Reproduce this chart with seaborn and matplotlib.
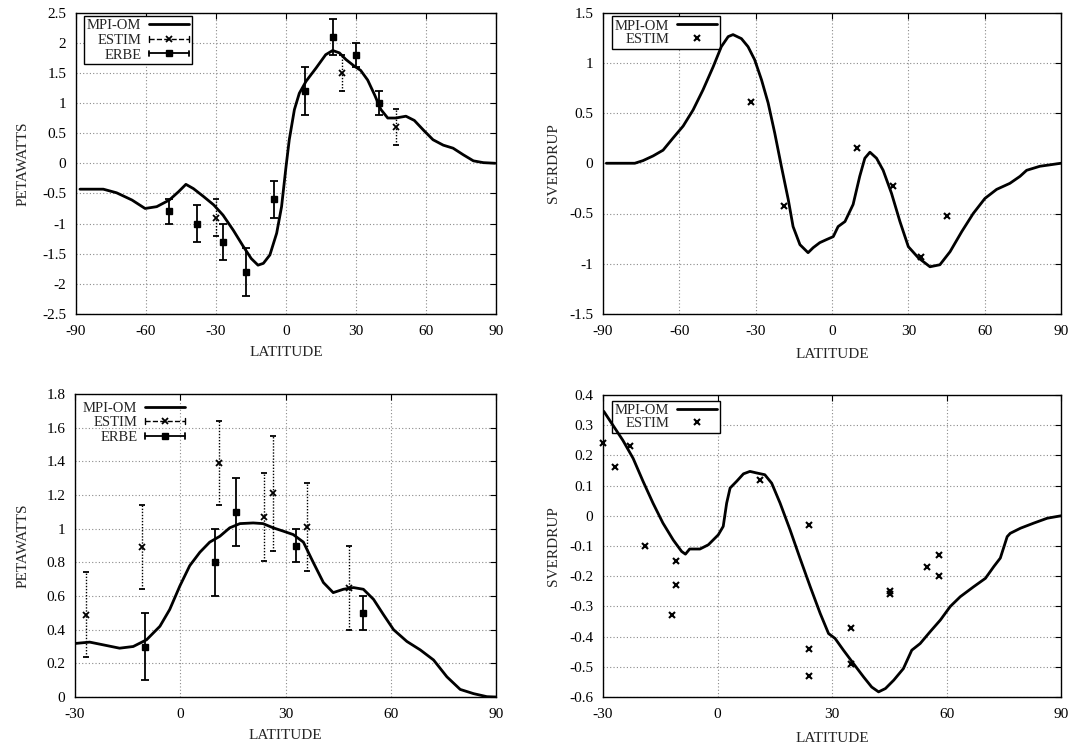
import numpy as np
import pandas as pd
import matplotlib
matplotlib.use("Agg")
import matplotlib.pyplot as plt
import seaborn as sns
from matplotlib.lines import Line2D
from matplotlib.legend_handler import HandlerBase

# ---------------- DATA ----------------
# Panel A: global heat transport (PW)
a_lat = [-88.3, -78.3, -72.6, -66, -60.4, -55.4, -50, -46, -42.9, -39.7, -35.4, -31, -27, -22.6,
         -18.3, -14.9, -12, -9.7, -6.9, -4, -1.9, 0, 1.4, 3.6, 5.7, 8.6, 12.9, 17, 20, 22.9, 25.7,
         29.3, 32, 35, 37.9, 40.7, 43.6, 47, 51.4, 55, 58.9, 63, 67.4, 71.6, 76, 80.3, 84.6, 89.6]
a_mpi = [-0.43, -0.43, -0.49, -0.61, -0.75, -0.72, -0.61, -0.47, -0.35, -0.42, -0.55, -0.69, -0.86,
         -1.11, -1.38, -1.58, -1.69, -1.66, -1.52, -1.16, -0.72, -0.06, 0.39, 0.89, 1.16, 1.36, 1.58,
         1.80, 1.87, 1.83, 1.72, 1.61, 1.54, 1.38, 1.14, 0.89, 0.75, 0.75, 0.78, 0.71, 0.55, 0.39,
         0.30, 0.25, 0.14, 0.04, 0.01, 0.0]
a_erbe_lat = [-50, -38, -27, -17, -5, 8, 20, 30, 40]
a_erbe_val = [-0.8, -1.0, -1.3, -1.8, -0.6, 1.2, 2.1, 1.8, 1.0]
a_erbe_err = [0.2, 0.3, 0.3, 0.4, 0.3, 0.4, 0.3, 0.2, 0.2]
a_est_lat = [-30, 24, 47]
a_est_val = [-0.9, 1.5, 0.6]
a_est_err = [0.3, 0.3, 0.3]

# Panel B: global overturning (Sv)
b_lat = [-88.7, -77.5, -74.3, -70.3, -66.4, -62.5, -58.5, -54.6, -50.7, -46.7, -43.5, -40.8, -38.9,
         -35.6, -33, -30.4, -27.7, -25.1, -22.5, -19.9, -17.2, -15.3, -12.6, -9.4, -7.4, -4.8, -2.2,
         0.5, 2.4, 5.1, 8.3, 10.9, 12.9, 14.9, 17.5, 20.1, 23.4, 26.7, 30, 33.9, 38.5, 42.4, 46.4,
         51, 55.5, 60.1, 64.7, 69.9, 73.9, 76.5, 81.7, 90]
b_mpi = [0, 0, 0.026, 0.073, 0.13, 0.25, 0.37, 0.53, 0.73, 0.96, 1.16, 1.26, 1.28, 1.24, 1.16, 1.03,
         0.83, 0.60, 0.30, -0.03, -0.36, -0.63, -0.81, -0.89, -0.84, -0.79, -0.76, -0.73, -0.63,
         -0.58, -0.41, -0.13, 0.05, 0.11, 0.05, -0.07, -0.30, -0.58, -0.83, -0.94, -1.03, -1.01,
         -0.88, -0.68, -0.50, -0.35, -0.26, -0.20, -0.13, -0.07, -0.03, 0.0]
b_est_lat = [-32, -19, 10, 24, 35, 45]
b_est_val = [0.61, -0.43, 0.15, -0.23, -0.93, -0.52]

# Panel C: Atlantic heat transport (PW)
c_lat = [-30, -25.8, -22, -17.3, -13.4, -9.6, -5.8, -3, -0.1, 2.7, 5.6, 8.4, 11.3, 14.1, 17, 20.8,
         23.6, 26.5, 29.4, 32.2, 35.1, 37.9, 40.8, 43.6, 46.5, 49.4, 52.2, 55.1, 57.9, 60.8, 64.6,
         68.4, 72.2, 76, 79.8, 83.6, 87.4, 90]
c_mpi = [0.318, 0.326, 0.31, 0.29, 0.30, 0.34, 0.42, 0.52, 0.66, 0.78, 0.86, 0.92, 0.955, 1.005,
         1.03, 1.034, 1.03, 1.005, 0.985, 0.965, 0.92, 0.80, 0.68, 0.62, 0.64, 0.65, 0.64, 0.58,
         0.49, 0.40, 0.33, 0.28, 0.22, 0.12, 0.045, 0.02, 0.002, 0.0]
c_erbe_lat = [-10, 10, 16, 33, 52]
c_erbe_val = [0.3, 0.8, 1.1, 0.9, 0.5]
c_erbe_err = [0.2, 0.2, 0.2, 0.1, 0.1]
c_est_lat = [-27, -11, 11, 24, 26.5, 36, 48]
c_est_val = [0.49, 0.89, 1.39, 1.07, 1.21, 1.01, 0.65]
c_est_err = [0.25, 0.25, 0.25, 0.26, 0.34, 0.26, 0.25]

# Panel D: Atlantic overturning (Sv)
d_lat = [-29.8, -27.4, -24.8, -22.1, -19.5, -16.9, -14.3, -11.6, -9.4, -8.4, -7.3, -4.6, -2.4, 0.2,
         1.5, 2.4, 3.3, 5, 6.8, 8.5, 10.2, 12.4, 14.2, 16.4, 19, 21.6, 24.3, 26.9, 29.1, 30.8, 33,
         35.6, 38.3, 40.4, 42.2, 44, 46.2, 48.7, 50.9, 53.1, 55.7, 58.4, 61, 63.6, 67.1, 70.2,
         72.4, 74.1, 75.9, 76.7, 79.4, 82.9, 86.4, 90]
d_mpi = [0.346, 0.30, 0.25, 0.19, 0.114, 0.042, -0.024, -0.08, -0.118, -0.127, -0.11, -0.11, -0.096,
         -0.063, -0.035, 0.042, 0.092, 0.114, 0.139, 0.147, 0.142, 0.136, 0.108, 0.042, -0.046,
         -0.14, -0.235, -0.323, -0.39, -0.406, -0.445, -0.489, -0.534, -0.567, -0.583, -0.572,
         -0.544, -0.506, -0.445, -0.423, -0.384, -0.345, -0.30, -0.268, -0.235, -0.207, -0.168,
         -0.14, -0.069, -0.058, -0.041, -0.024, -0.008, 0.0]
d_est_lat = [-30, -26.9, -22.8, -18.9, -10.9, -10.9, -11.9, 11.1, 24.1, 24.1, 24.1, 35.1, 35.1,
             45.1, 45.1, 55, 58.1, 58.1]
d_est_val = [0.24, 0.16, 0.23, -0.10, -0.15, -0.23, -0.33, 0.12, -0.03, -0.44, -0.53, -0.37,
             -0.49, -0.25, -0.26, -0.17, -0.13, -0.20]

# ---------------- STYLE ----------------
sns.set_theme(style="white")
plt.rcParams["font.family"] = ["Liberation Serif", "DejaVu Serif"]

FS_TICK = 11
FS_LAB = 11
FS_LEG = 10.5


class GnuErrHandler(HandlerBase):
    def create_artists(self, legend, orig_handle, xdescent, ydescent, width, height, fontsize, trans):
        y = height / 2.0 - ydescent
        x0 = -xdescent
        x1 = -xdescent + width
        ls = orig_handle.get_linestyle()
        lw = orig_handle.get_linewidth()
        cap = height * 0.28
        arts = [
            Line2D([x0, x1], [y, y], color="black", lw=lw, ls=ls, transform=trans),
            Line2D([x0, x0], [y - cap, y + cap], color="black", lw=lw, transform=trans),
            Line2D([x1, x1], [y - cap, y + cap], color="black", lw=lw, transform=trans),
            Line2D([(x0 + x1) / 2.0], [y], color="black", ls="none", marker=orig_handle.get_marker(),
                   ms=orig_handle.get_markersize(), mew=orig_handle.get_markeredgewidth(),
                   transform=trans),
        ]
        return arts


fig = plt.figure(figsize=(10.68, 7.45), dpi=100)
W, H = 1068.0, 745.0


def make_ax(l, t, r, b):
    return fig.add_axes([l / W, 1 - b / H, (r - l) / W, (b - t) / H])


axA = make_ax(76, 12.5, 496, 314)
axB = make_ax(603, 12.5, 1061, 314)
axC = make_ax(75, 394, 496, 697)
axD = make_ax(603, 395, 1061, 697)


def style_ax(ax, xlim, ylim, xticks, yticks, ylab, ylab_x, xlab_y, yfmt):
    ax.set_xlim(*xlim)
    ax.set_ylim(*ylim)
    ax.set_xticks(xticks)
    ax.set_yticks(yticks)
    ax.set_xticklabels([str(v) for v in xticks], fontsize=FS_TICK)
    ax.set_yticklabels([yfmt(v) for v in yticks], fontsize=FS_TICK)
    ax.set_axisbelow(True)
    ax.grid(True, color="#8a8a8a", ls=(0, (1, 2)), lw=0.8)
    for s in ax.spines.values():
        s.set_visible(True)
        s.set_color("black")
        s.set_linewidth(1.0)
    ax.tick_params(direction="in", length=4, width=0.8, top=True, right=True, colors="black",
                   pad=7)
    ax.tick_params(axis="x", pad=8)
    ax.set_xlabel("LATITUDE", fontsize=FS_LAB)
    ax.set_ylabel(ylab, fontsize=FS_LAB)
    ax.xaxis.set_label_coords(0.5, xlab_y)
    ax.yaxis.set_label_coords(ylab_x, 0.5)


def fmt_gen(v):
    s = ("%.2f" % v).rstrip("0").rstrip(".")
    if s == "-0":
        s = "0"
    return s


def draw_curve(ax, lat, val):
    df = pd.DataFrame({"lat": lat, "val": val})
    sns.lineplot(data=df, x="lat", y="val", ax=ax, color="black", lw=2.0, sort=False,
                 estimator=None, zorder=3)


def draw_err(ax, lat, val, err, kind):
    if kind == "erbe":
        eb = ax.errorbar(lat, val, yerr=err, fmt="s", ms=4, color="black", ecolor="black",
                         elinewidth=1.3, capsize=3, capthick=1.3, zorder=4)
    else:
        eb = ax.errorbar(lat, val, yerr=err, fmt="x", ms=4.5, mew=1.3, color="black",
                         ecolor="black", elinewidth=1.0, capsize=2.5, capthick=0.8, zorder=4)
        for lc in eb[2]:
            lc.set_linestyle((0, (1, 1.2)))
    return eb


def legend_full(ax, anchor, frame=True):
    h_mpi = Line2D([], [], color="black", lw=2.0)
    h_est = Line2D([], [], color="black", lw=1.0, ls=(0, (1, 1.2)), marker="x", ms=4.5, mew=1.3)
    h_erbe = Line2D([], [], color="black", lw=1.3, ls="-", marker="s", ms=4)
    leg = ax.legend([h_mpi, h_est, h_erbe], ["MPI-OM", "ESTIM", "ERBE"], loc="upper left",
                    bbox_to_anchor=anchor, borderaxespad=0, markerfirst=False, fontsize=FS_LEG,
                    handlelength=2.8, handletextpad=0.5, labelspacing=0.1, borderpad=0.2,
                    frameon=frame, fancybox=False, handler_map={h_est: GnuErrHandler(),
                                                                 h_erbe: GnuErrHandler()})
    fr = leg.get_frame()
    fr.set_edgecolor("black" if frame else "white")
    fr.set_facecolor("white")
    fr.set_linewidth(1.0)
    fr.set_alpha(1)
    leg.set_zorder(2)
    return leg


def legend_two(ax, anchor):
    h_mpi = Line2D([], [], color="black", lw=2.0)
    h_est = Line2D([], [], color="black", ls="none", marker="x", ms=4.5, mew=1.5)
    leg = ax.legend([h_mpi, h_est], ["MPI-OM", "ESTIM"], loc="upper left", bbox_to_anchor=anchor,
                    borderaxespad=0, markerfirst=False, fontsize=FS_LEG, handlelength=2.8,
                    handletextpad=0.5, labelspacing=0.0, borderpad=0.2, frameon=True,
                    fancybox=False)
    fr = leg.get_frame()
    fr.set_edgecolor("black")
    fr.set_facecolor("white")
    fr.set_linewidth(1.0)
    fr.set_alpha(1)
    leg.set_zorder(2)
    return leg


# Panel A
draw_curve(axA, a_lat, a_mpi)
draw_err(axA, a_est_lat, a_est_val, a_est_err, "estim")
draw_err(axA, a_erbe_lat, a_erbe_val, a_erbe_err, "erbe")
style_ax(axA, (-90, 90), (-2.5, 2.5), [-90, -60, -30, 0, 30, 60, 90],
         [-2.5, -2, -1.5, -1, -0.5, 0, 0.5, 1, 1.5, 2, 2.5], "PETAWATTS", -0.11, -0.106, fmt_gen)
legend_full(axA, (0.019, 0.988))

# Panel B
draw_curve(axB, b_lat, b_mpi)
axB.plot(b_est_lat, b_est_val, ls="none", marker="x", ms=4.5, mew=1.5, color="black", zorder=4)
style_ax(axB, (-90, 90), (-1.5, 1.5), [-90, -60, -30, 0, 30, 60, 90],
         [-1.5, -1, -0.5, 0, 0.5, 1, 1.5], "SVERDRUP", -0.094, -0.113, fmt_gen)
legend_two(axB, (0.0197, 0.987))

# Panel C
draw_curve(axC, c_lat, c_mpi)
draw_err(axC, c_est_lat, c_est_val, c_est_err, "estim")
draw_err(axC, c_erbe_lat, c_erbe_val, c_erbe_err, "erbe")
style_ax(axC, (-30, 90), (0, 1.8), [-30, 0, 30, 60, 90],
         [0, 0.2, 0.4, 0.6, 0.8, 1, 1.2, 1.4, 1.6, 1.8], "PETAWATTS", -0.107, -0.106, fmt_gen)
legend_full(axC, (0.012, 0.985), frame=False)

# Panel D
draw_curve(axD, d_lat, d_mpi)
axD.plot(d_est_lat, d_est_val, ls="none", marker="x", ms=4.5, mew=1.5, color="black", zorder=4,
         clip_on=False)
style_ax(axD, (-30, 90), (-0.6, 0.4), [-30, 0, 30, 60, 90],
         [-0.6, -0.5, -0.4, -0.3, -0.2, -0.1, 0, 0.1, 0.2, 0.3, 0.4], "SVERDRUP", -0.094, -0.116,
         fmt_gen)
legend_two(axD, (0.0197, 0.980))

fig.savefig("out.png", dpi=100, facecolor="white")
